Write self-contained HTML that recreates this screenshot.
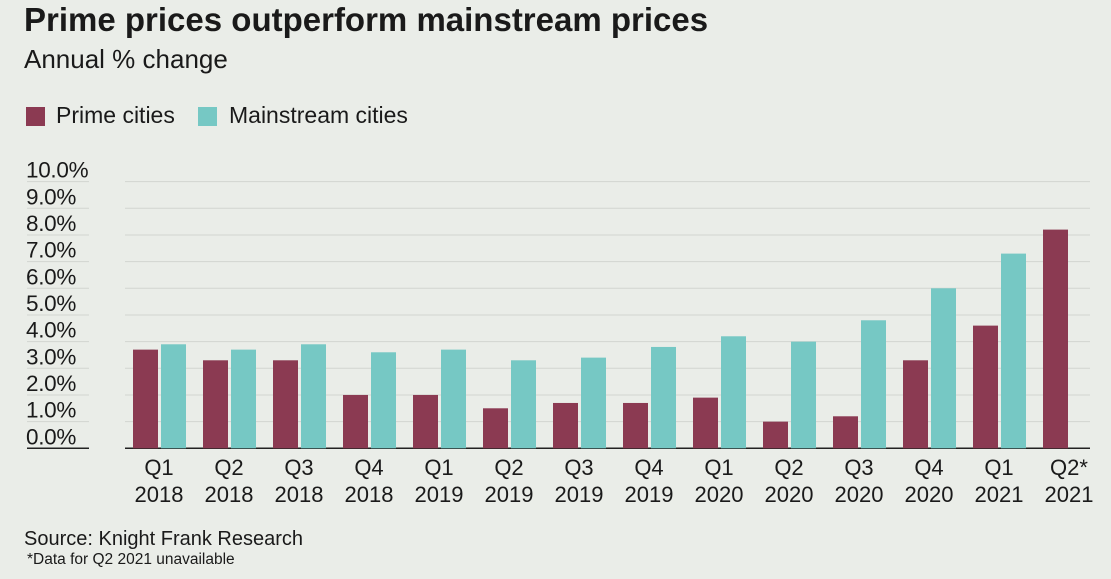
<!DOCTYPE html>
<html><head><meta charset="utf-8"><style>
body{margin:0;width:1111px;height:579px;background:#eaede8;font-family:"Liberation Sans",sans-serif;color:#1a1a1a;overflow:hidden;position:relative}
.t{position:absolute;white-space:nowrap}
</style></head><body>
<div class="t" style="left:24px;top:1px;font-size:33px;font-weight:bold;letter-spacing:0px">Prime prices outperform mainstream prices</div>
<div class="t" style="left:24px;top:44px;font-size:26px">Annual % change</div>
<div>
<div style="position:absolute;left:26px;top:107px;width:19px;height:19px;background:#8b3a52"></div>
<div class="t" style="left:56px;top:102px;font-size:23px">Prime cities</div></div>
<div>
<div style="position:absolute;left:198px;top:107px;width:19px;height:19px;background:#76c8c4"></div>
<div class="t" style="left:229px;top:102px;font-size:23px">Mainstream cities</div></div>
<svg id="c" width="1111" height="579" style="position:absolute;left:0;top:0"></svg>
<div class="t" style="left:24px;top:528px;font-size:20px">Source: Knight Frank Research</div>
<div class="t" style="left:27px;top:551px;font-size:15.5px">*Data for Q2 2021 unavailable</div>
<script>
const categories=["Q1|2018","Q2|2018","Q3|2018","Q4|2018","Q1|2019","Q2|2019","Q3|2019","Q4|2019","Q1|2020","Q2|2020","Q3|2020","Q4|2020","Q1|2021","Q2*|2021"];
const prime=[3.7,3.3,3.3,2.0,2.0,1.5,1.7,1.7,1.9,1.0,1.2,3.3,4.6,8.2];
const mainstream=[3.9,3.7,3.9,3.6,3.7,3.3,3.4,3.8,4.2,4.0,4.8,6.0,7.3,null];
const ticks=[0,1,2,3,4,5,6,7,8,9,10];
const NS="http://www.w3.org/2000/svg";
const svg=document.getElementById('c');
const y=v=>448.3-v*26.67;
const gx=i=>133+i*70;
function mk(t,a){const e=document.createElementNS(NS,t);for(const k in a)e.setAttribute(k,a[k]);svg.appendChild(e);return e;}
ticks.forEach(v=>{
 const g=mk('line',{x1:125,x2:1090,y1:y(v),y2:y(v),stroke:v===0?'#222':'#d2d5d0','stroke-width':v===0?1.5:1});
 
 
 const u=mk('line',{x1:27,x2:89,y1:y(v),y2:y(v),stroke:v===0?'#222':'#d2d5d0','stroke-width':v===0?1.5:1});
 
 
 const t=mk('text',{x:26,y:y(v)-4,'font-size':22.5,fill:'#1a1a1a','letter-spacing':'-0.3'});
 t.textContent=v.toFixed(1)+'%';
 
 
});
categories.forEach((c,i)=>{
 if(prime[i]!=null){const r=mk('rect',{x:gx(i),y:y(prime[i]),width:25,height:prime[i]*26.67,fill:'#8b3a52'});
 
 }
 if(mainstream[i]!=null){const r=mk('rect',{x:gx(i)+28,y:y(mainstream[i]),width:25,height:mainstream[i]*26.67,fill:'#76c8c4'});
 
 }
 const [a,b]=c.split('|');
 const t1=mk('text',{x:gx(i)+26,y:475,'font-size':22,'text-anchor':'middle',fill:'#1a1a1a'});t1.textContent=a;
 
 
 const t2=mk('text',{x:gx(i)+26,y:502,'font-size':22,'text-anchor':'middle',fill:'#1a1a1a'});t2.textContent=b;
 
 
});
</script>
</body></html>
